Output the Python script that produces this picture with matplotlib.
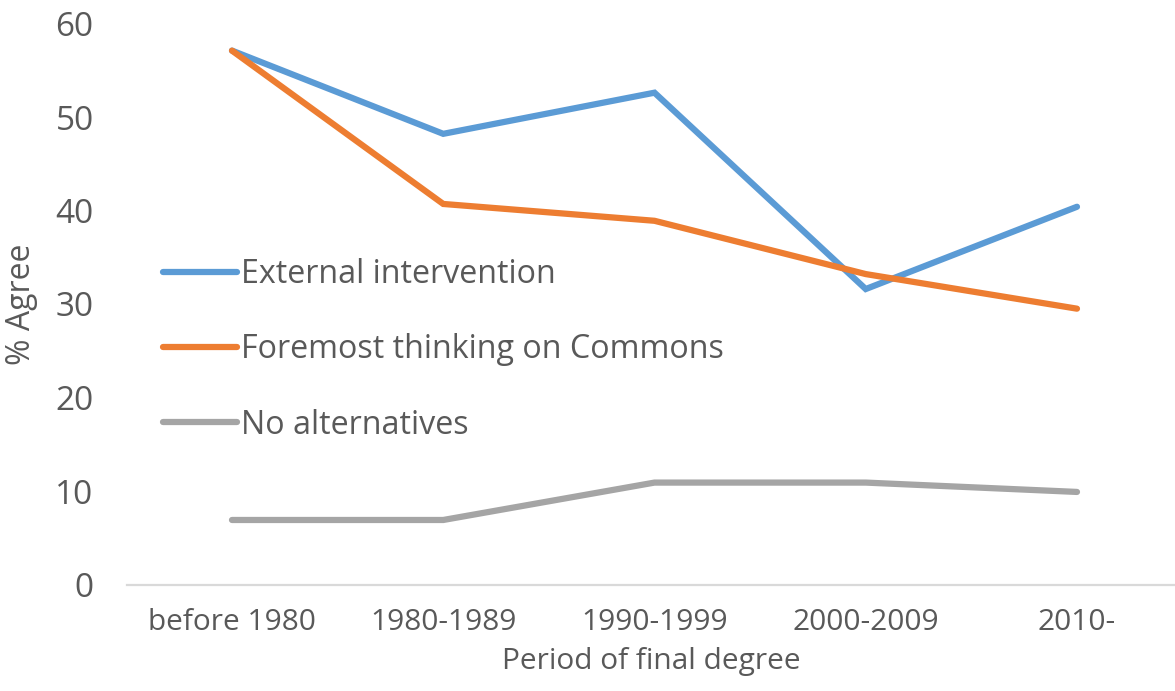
import matplotlib
matplotlib.use("Agg")
import matplotlib.pyplot as plt

periods = ["before 1980", "1980-1989", "1990-1999", "2000-2009", "2010-"]
external_intervention = [57.1, 48.2, 52.6, 31.6, 40.4]
foremost_thinking = [57.1, 40.7, 38.9, 33.2, 29.5]
no_alternatives = [6.9, 6.9, 10.9, 10.9, 9.9]
yticks = [0, 10, 20, 30, 40, 50, 60]

series_labels = ["External intervention", "Foremost thinking on Commons", "No alternatives"]
colors = ["#5B9BD5", "#ED7D31", "#A5A5A5"]
text_color = "#595959"
FONT = ["Open Sans", "DejaVu Sans"]

W, H = 1175, 691
fig = plt.figure(figsize=(W / 100, H / 100), dpi=100)
left_px, right_px, top_px, bot_px = 127, 1175, 23.5, 584.5
ax = fig.add_axes([left_px / W, 1 - bot_px / H, (right_px - left_px) / W, (bot_px - top_px) / H])

x = list(range(len(periods)))
for vals, lab, c in zip([external_intervention, foremost_thinking, no_alternatives], series_labels, colors):
    ax.plot(x, vals, color=c, lw=4.5, label=lab, solid_capstyle="round", solid_joinstyle="miter", clip_on=False)

ax.set_xlim(-0.497, 4.464)
ax.set_ylim(0, 60)
ax.set_yticks(yticks)
ax.set_xticks(x)
ax.set_xticklabels(periods)

for s in ["top", "right", "left"]:
    ax.spines[s].set_visible(False)
ax.spines["bottom"].set_color("#D9D9D9")
ax.spines["bottom"].set_linewidth(1.6)

ax.tick_params(axis="y", length=0, pad=24, labelcolor=text_color, labelsize=24)
ax.tick_params(axis="x", length=0, pad=17, labelcolor=text_color, labelsize=21.5)
for t in ax.get_yticklabels() + ax.get_xticklabels():
    t.set_family(FONT)

ax.set_xlabel("Period of final degree", fontsize=21.5, color=text_color, family=FONT, labelpad=7)
ax.set_ylabel("% Agree", fontsize=23, color=text_color, family=FONT)
ax.yaxis.set_label_coords((38 - left_px) / (right_px - left_px), 0.5)

leg = fig.legend(loc="center left", bbox_to_anchor=(163 / W, 1 - 350 / H), frameon=False,
                 prop={"family": FONT, "size": 23.2}, handlelength=2.3, handletextpad=0.12,
                 labelspacing=1.31, borderpad=0, borderaxespad=0)
for t in leg.get_texts():
    t.set_color(text_color)

fig.savefig("out.png", dpi=100, facecolor="white")
